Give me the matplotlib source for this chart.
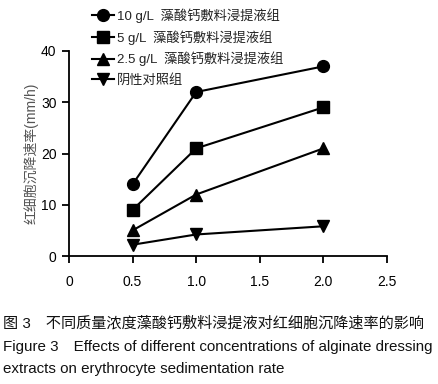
import matplotlib
matplotlib.use("Agg")
import matplotlib.pyplot as plt

plt.rcParams['font.family'] = ['Liberation Sans', 'Noto Sans CJK SC', 'DejaVu Sans']

x = [0.5, 1.0, 2.0]
series_labels = ["10 g/L  藻酸钙敷料浸提液组", "5 g/L  藻酸钙敷料浸提液组",
                 "2.5 g/L  藻酸钙敷料浸提液组", "阴性对照组"]
g10 = [14, 32, 37]
g5 = [9, 21, 29]
g25 = [5, 12, 21]
neg = [2.2, 4.2, 5.8]
markers = ['o', 's', '^', 'v']
xticks = [0, 0.5, 1.0, 1.5, 2.0, 2.5]
xticklabels = ["0", "0.5", "1.0", "1.5", "2.0", "2.5"]
yticks = [0, 10, 20, 30, 40]
ylabel = "红细胞沉降速率(mm/h)"
caption = ["图 3　不同质量浓度藻酸钙敷料浸提液对红细胞沉降速率的影响",
           "Figure 3　Effects of different concentrations of alginate dressing",
           "extracts on erythrocyte sedimentation rate"]

fig = plt.figure(figsize=(4.39, 3.84), dpi=100)
ax = fig.add_axes([69/439, 1-256/384, (387-69)/439, (256-51)/384])

for vals, m, lab in zip([g10, g5, g25, neg], markers, series_labels):
    ax.plot(x, vals, color='black', lw=1.5, marker=m, markersize=8.5, label=lab)

ax.set_xlim(0, 2.5)
ax.set_ylim(0, 40)
ax.set_xticks(xticks)
ax.set_xticklabels(xticklabels)
ax.set_yticks(yticks)
ax.spines['top'].set_visible(False)
ax.spines['right'].set_visible(False)
ax.spines['left'].set_linewidth(1.3)
ax.spines['bottom'].set_linewidth(1.3)
ax.tick_params(direction='out', length=5, width=1.3, labelsize=10, pad=4)
ax.tick_params(axis='x', pad=9)
ax.set_ylabel(ylabel, color='#555555', fontsize=10, labelpad=2)

leg = fig.legend(loc='upper left', bbox_to_anchor=(92/439, 1-8/384), frameon=False,
                 fontsize=9.5, handlelength=1.7, handletextpad=0.2, labelspacing=0.55,
                 borderaxespad=0, borderpad=0)
for t in leg.get_texts():
    t.set_color('#222222')

ys = [323, 347, 369]
for line, yy in zip(caption, ys):
    fig.text(3/439, 1-yy/384, line, fontsize=10.9, va='center', ha='left', color='#111111')

fig.savefig("out.png", dpi=100)
